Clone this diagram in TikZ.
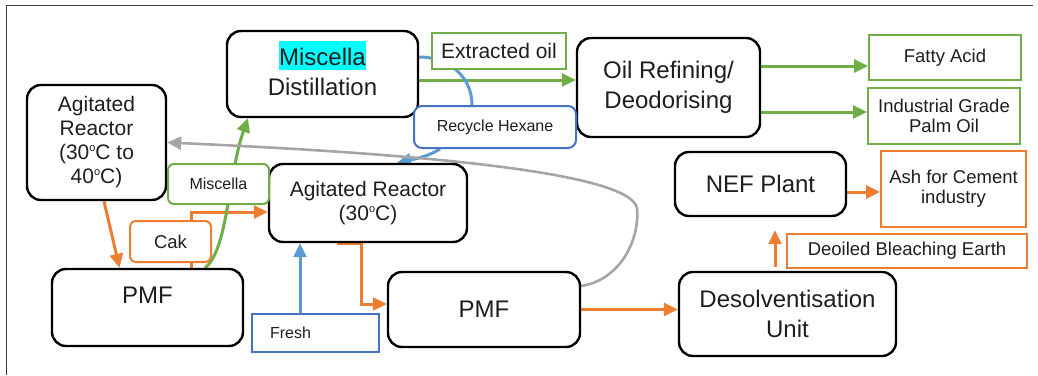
\documentclass[tikz,border=0pt]{standalone}
\usepackage{fontspec}
\setmainfont{Liberation Sans}
\usetikzlibrary{arrows.meta,backgrounds}
\definecolor{ogreen}{RGB}{112,173,71}
\definecolor{oorange}{RGB}{237,125,49}
\definecolor{oblue}{RGB}{68,114,196}
\definecolor{lblue}{RGB}{91,155,213}
\definecolor{ogray}{RGB}{165,165,165}
\definecolor{hilite}{RGB}{0,255,255}
\definecolor{txtc}{RGB}{30,30,30}
\newcommand{\sizebig}{\fontsize{24}{30}\selectfont}
\newcommand{\sizemid}{\fontsize{21}{24}\selectfont}
\newcommand{\sizelab}{\fontsize{18.5}{20}\selectfont}
\newcommand{\sizesml}{\fontsize{16}{18}\selectfont}
\newcommand{\dego}{\raisebox{0.75ex}{\fontsize{11}{11}\selectfont o}}

\begin{document}
\begin{tikzpicture}[x=1pt,y=-1pt,
  unit/.style={draw=black, line width=2.4pt, rounded corners=14pt, fill=white, align=center, text=txtc, inner sep=2pt},
  tag/.style={line width=2pt, fill=white, align=center, text=txtc, inner sep=2pt},
  flow/.style={line width=3pt, -{Triangle[length=14pt,width=13pt]}}]
\useasboundingbox (0,0) rectangle (1038,375);

% Frame
\draw[line width=1.5pt, black!75] (6.5,375) -- (6.5,5.5) -- (1033,5.5);

% Process units
\node[unit, minimum width=191pt, minimum height=86pt, font=\sizebig, text depth=12pt] (mdist) at (322.5,74)
  {{\setlength{\fboxsep}{0pt}\colorbox{hilite}{\rule[-4pt]{0pt}{29pt}Miscella}}\\Distillation};
\node[unit, minimum width=139pt, minimum height=115pt, font=\sizemid] (arhot) at (96.5,142.5)
  {Agitated\\Reactor\\(30\dego C to\\40\dego C)};
\node[unit, minimum width=183pt, minimum height=99pt, font=\sizebig] (oilref) at (668.5,87.5)
  {Oil Refining/\\Deodorising};
\node[unit, minimum width=198pt, minimum height=78pt, font=\sizemid] (ar30) at (368,203)
  {Agitated Reactor\\(30\dego C)};
\node[unit, minimum width=171pt, minimum height=64pt, font=\sizebig] (nef) at (760.5,184) {NEF Plant};
\node[unit, minimum width=191pt, minimum height=77pt, font=\sizebig, text depth=24pt] (pmfA) at (147.5,307.5) {PMF};
\node[unit, minimum width=192pt, minimum height=75pt, font=\sizebig] (pmfB) at (484,309.5) {PMF};
\node[unit, minimum width=217pt, minimum height=84pt, font=\sizebig] (desolv) at (787.5,314)
  {Desolventisation\\Unit};

% Stream labels
\node[tag, draw=ogreen, minimum width=134pt, minimum height=36pt, font=\sizemid] (extoil) at (499,51) {Extracted oil};
\node[tag, draw=ogreen, minimum width=152pt, minimum height=45pt, font=\sizelab] (fatty) at (945,57.5) {Fatty Acid};
\node[tag, draw=ogreen, minimum width=152pt, minimum height=56pt, font=\sizelab] (palm) at (944,116)
  {Industrial Grade\\Palm Oil};
\node[tag, draw=oblue, rounded corners=8pt, minimum width=162pt, minimum height=42pt, font=\sizesml] (rhex) at (495,127)
  {Recycle Hexane};
\node[tag, draw=ogreen, rounded corners=6pt, minimum width=101pt, minimum height=40pt, font=\sizesml] (misc) at (218.5,184)
  {Miscella};
\node[tag, draw=oorange, minimum width=145pt, minimum height=76pt, font=\sizelab] (ash) at (953.5,189)
  {Ash for Cement\\industry};
\node[tag, draw=oorange, rounded corners=6pt, minimum width=81pt, minimum height=41pt, font=\sizelab] (cak) at (170.5,241.5) {Cak};
\node[tag, draw=oorange, minimum width=240pt, minimum height=34pt, font=\sizelab] (deoil) at (907,251)
  {Deoiled Bleaching Earth};
\node[tag, draw=oblue, text width=91pt, inner xsep=18pt, align=left, minimum height=38pt, font=\sizesml] (fresh) at (315.5,333)
  {Fresh};

% Connectors
\begin{scope}[on background layer]
\draw[flow, oorange] ([xshift=7.5pt]arhot.south) -- ([xshift=-28pt]pmfA.north);
\draw[flow, oorange] ([xshift=44pt]pmfA.north) |- ([yshift=-9pt]ar30.west);
\draw[flow, ogreen] ([xshift=57.5pt]pmfA.north) .. controls (228,250) and (228,175) .. ([xshift=-74.5pt]mdist.south);
\draw[flow, ogreen] ([yshift=-6pt]mdist.east) -- ([yshift=-6pt]mdist.east -| oilref.west);
\draw[flow, ogreen] ([yshift=21.5pt]oilref.east) -- ([yshift=21.5pt]oilref.east -| fatty.west);
\draw[flow, ogreen] ([yshift=-24.5pt]oilref.east) -- ([yshift=-24.5pt]oilref.east -| palm.west);
\draw[line width=3pt, lblue] ([yshift=17pt]mdist.east) .. controls (448,57) and (472,76) .. ([xshift=-23pt]rhex.north);
\draw[flow, lblue] ([xshift=-55pt]rhex.south) .. controls (425,158) and (410,160) .. ([xshift=29pt]ar30.north);
\draw[flow, ogray, line width=2.6pt] ([yshift=23.5pt]pmfB.east) .. controls (620,280) and (640,240) .. (637,208)
  .. controls (630,175) and (450,155) .. (arhot.east);
\draw[flow, lblue] ([xshift=-15.5pt]fresh.north) -- ([xshift=-15.5pt]fresh.north |- ar30.south);
\draw[flow, oorange] ([xshift=-31pt]ar30.south) -- ([xshift=-7pt]ar30.south) |- ([yshift=5.5pt]pmfB.west);
\draw[flow, oorange] (pmfB.east) -- (pmfB.east -| desolv.west);
\draw[flow, oorange, shorten <=4pt, shorten >=13pt] ([xshift=-12.5pt]desolv.north) -- ([xshift=-12.5pt]desolv.north |- nef.south);
\draw[flow, oorange] ([yshift=-8pt]nef.east) -- ([yshift=-8pt]nef.east -| ash.west);
\end{scope}
\end{tikzpicture}
\end{document}
